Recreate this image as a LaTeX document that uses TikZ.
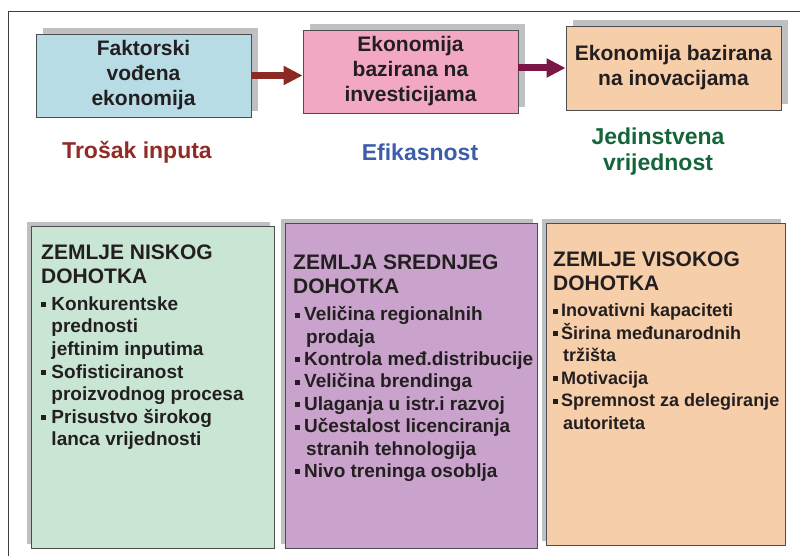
\documentclass[tikz,border=0pt]{standalone}
\usepackage{fontspec}
\setmainfont{Liberation Sans}
\usepackage{xcolor}
\usetikzlibrary{positioning, shadows, arrows.meta}

\definecolor{txtgrey}{HTML}{231F20}
\definecolor{boxline}{HTML}{4D4D4F}
\definecolor{framegrey}{HTML}{3F3F3F}
\definecolor{shadegrey}{HTML}{BEC0C4}
\definecolor{blue1}{HTML}{B7DCE6}
\definecolor{pink1}{HTML}{F2A8C5}
\definecolor{peach1}{HTML}{F6CEA9}
\definecolor{green1}{HTML}{C9E6D5}
\definecolor{lilac1}{HTML}{C9A3CC}
\definecolor{redtxt}{HTML}{922B25}
\definecolor{bluetxt}{HTML}{3E5CAA}
\definecolor{greentxt}{HTML}{16653A}
\definecolor{arrowred}{HTML}{8C2923}
\definecolor{arrowpurple}{HTML}{7A1747}

\newcommand{\bul}{\rule[3pt]{5pt}{5pt}}

\begin{document}
\begin{tikzpicture}[x=1pt, y=-1pt,
    topbox/.style={draw=boxline, line width=0.8pt, minimum width=215pt, minimum height=83pt,
        inner sep=0pt, align=center, text=txtgrey, font=\fontsize{21}{25}\selectfont\bfseries,
        general shadow={shadow xshift=7pt, shadow yshift=6pt, fill=shadegrey}},
    incomebox/.style={draw=boxline, line width=0.8pt, inner sep=0pt,
        general shadow={shadow xshift=-4pt, shadow yshift=4pt, fill=shadegrey}},
    stagetext/.style={font=\fontsize{23}{26}\selectfont\bfseries, align=center},
    headtext/.style={anchor=north west, inner sep=0pt, align=left, text=txtgrey,
        font=\fontsize{21}{24}\selectfont\bfseries},
    listtext/.style={inner sep=0pt, align=left, text=txtgrey,
        font=\fontsize{19}{22.6}\selectfont\bfseries},
    bigarrow/.style={line width=7pt, -{Triangle[length=19pt, width=18pt]}}]

    \useasboundingbox (0,0) rectangle (800,556);
    \draw[framegrey, line width=0.8pt] (8,556) -- (8,11) -- (800,11);

    % stages
    \node[topbox, fill=blue1] (fact) at (143.5,75.5) {Faktorski\\ vođena\\ ekonomija};
    \node[topbox, fill=pink1] (inv) at (410.5,71.5) {Ekonomija\\ bazirana na\\ investicijama};
    \node[topbox, fill=peach1, minimum height=84pt] (inov) at (673.5,68) {Ekonomija bazirana\\ na inovacijama};

    \draw[bigarrow, arrowred] (fact.east) -- (fact.east -| inv.west);
    \draw[bigarrow, arrowpurple] (inov.west -| inv.east) -- (inov.west);

    \node[stagetext, text=redtxt] (cost) at (137,152) {Trošak inputa};
    \node[stagetext, text=bluetxt] (eff) at (420,152) {Efikasnost};
    \node[stagetext, text=greentxt] (uniq) at (658,152) {Jedinstvena\\ vrijednost};

    % income groups
    \node[incomebox, fill=green1, minimum width=243pt, minimum height=322pt] (low) at (152.5,387) {};
    \node[incomebox, fill=lilac1, minimum width=252pt, minimum height=325pt] (mid) at (411,385.5) {};
    \node[incomebox, fill=peach1, minimum width=239pt, minimum height=322pt] (high) at (665.5,384) {};

    \node[headtext] (lowhead) at (41,245) {ZEMLJE NISKOG\\ DOHOTKA};
    \node[listtext, below right=12pt and 0pt of lowhead.south west] (lowlist) {%
        \bul\ Konkurentske\\
        \phantom{\bul\ }prednosti\\
        \phantom{\bul\ }jeftinim inputima\\
        \bul\ Sofisticiranost\\
        \phantom{\bul\ }proizvodnog procesa\\
        \bul\ Prisustvo širokog\\
        \phantom{\bul\ }lanca vrijednosti};

    \node[headtext] (midhead) at (293,255) {ZEMLJA SREDNJEG\\ DOHOTKA};
    \node[listtext, font=\fontsize{19}{22.4}\selectfont\bfseries,
        below right=12pt and 2pt of midhead.south west] (midlist) {%
        \bul\hspace{4pt}Veličina regionalnih\\
        \phantom{\bul}\hspace{6pt}prodaja\\
        \bul\hspace{4pt}Kontrola međ.distribucije\\
        \bul\hspace{4pt}Veličina brendinga\\
        \bul\hspace{4pt}Ulaganja u istr.i razvoj\\
        \bul\hspace{4pt}Učestalost licenciranja\\
        \phantom{\bul}\hspace{6pt}stranih tehnologija\\
        \bul\hspace{4pt}Nivo treninga osoblja};

    \node[headtext] (highhead) at (553,252) {ZEMLJE VISOKOG\\ DOHOTKA};
    \node[listtext, font=\fontsize{18}{22.6}\selectfont\bfseries,
        below right=12pt and 0pt of highhead.south west] (highlist) {%
        \bul\hspace{3pt}Inovativni kapaciteti\\
        \bul\hspace{3pt}Širina međunarodnih\\
        \phantom{\bul}\hspace{5pt}tržišta\\
        \bul\hspace{3pt}Motivacija\\
        \bul\hspace{3pt}Spremnost za delegiranje\\
        \phantom{\bul}\hspace{5pt}autoriteta};
\end{tikzpicture}
\end{document}
